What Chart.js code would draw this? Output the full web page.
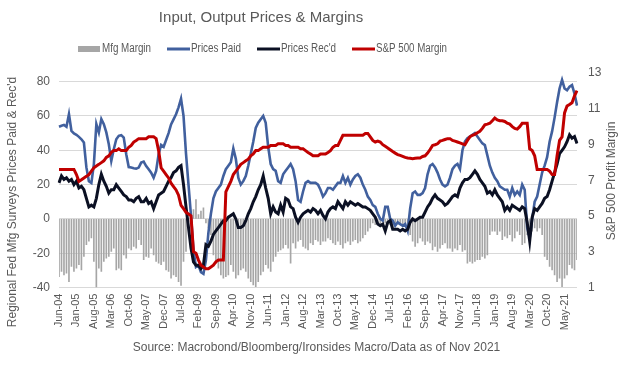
<!DOCTYPE html>
<html><head><meta charset="utf-8">
<script src="https://cdn.jsdelivr.net/npm/chart.js@4.4.1/dist/chart.umd.min.js"></script>
<style>html,body{margin:0;padding:0;background:#fff;}canvas{display:block;}</style>
</head><body>
<canvas id="c" width="633" height="365"></canvas>
<script>
// ---- data ----
const MONTHS = ['Jan','Feb','Mar','Apr','May','Jun','Jul','Aug','Sep','Oct','Nov','Dec'];
const categories = [];
for (let i = 0; i < 209; i++) {
  const m = (5 + i) % 12, y = 2004 + Math.floor((5 + i) / 12);
  categories.push(MONTHS[m] + '-' + String(y % 100).padStart(2, '0'));
}
const tickEvery = 7;

const mfgMargin = [
 -33.6,-30.6,-32.6,-31.6,-36.5,-27.7,-30.6,-28.7,-26.7,-29.7,
 -21.9,-15,-13,-11,-24.8,-39.8,-28.7,-30.6,-24.8,-22.8,
 -21.9,-18.9,-17,-29.7,-28.7,-29.7,-20.9,-22.8,-17,-18,
 -16,-17,-12.1,-15,-23.8,-21.9,-22.4,-17,-20.9,-24.8,
 -25.8,-26.7,-24.8,-29.7,-30.6,-34.5,-32.6,-33.6,-36.5,-38.8,
 -24.8,-18.9,-1.4,1.6,5.5,11.3,2.5,4.5,6.4,-2.3,
 -5.3,-9.2,-20.9,-25.8,-28.7,-32.6,-34.5,-33.6,-32.6,-26.7,
 -30.6,-34.5,-32.6,-29.7,-28.7,-30.6,-34.5,-36.5,-38.4,-39.4,
 -36.5,-32.6,-30.6,-26.7,-28.7,-30.6,-24.8,-21.9,-18.9,-18,
 -17,-15,-17,-25.8,-14,-17,-13,-12.1,-16,-17,
 -18,-14,-15,-12.1,-13,-15,-13,-13,-11,-12.1,
 -14,-15,-13,-15,-17,-14,-13,-15,-13,-12.1,
 -14,-13,-11,-9.2,-7.2,-5.3,-2.3,-3.3,-2.3,-3.3,
 -1.4,-2.3,-1.4,-3.3,-4.3,-2.3,-1.4,-3.3,-3.3,-4.3,
 -5.3,-9.2,-13,-16,-14,-11,-13,-15,-13,-14,
 -18,-16,-18.9,-17,-15,-14,-17,-17,-18.9,-17,
 -18,-15,-18.9,-18,-25.8,-24.8,-25.8,-24.8,-23.8,-23.8,
 -21.9,-22.8,-20.9,-9.2,-7.2,-7.2,-9.2,-7.2,-12.1,-10.1,
 -11.1,-9.2,-13,-11.1,-7.2,-9.2,-15,-14,-9.2,-7.2,
 -7.2,-5.3,-7.2,-5.3,-9.2,-21.9,-23.8,-27.7,-29.7,-32.6,
 -36.5,-34.5,-39.4,-34.5,-32.6,-26.7,-28.7,-29.7,-23.8
];

const pricesPaid = [
 53.7,54.3,54.8,53.7,61,51.3,49.8,49,47.8,46.4,
 44.5,30,22,21,31.8,55.2,50.4,58.2,55.2,50.4,
 43.5,33.8,40.6,46.4,48.4,48.8,47.4,37.7,30.2,29.9,
 29.5,29.3,29.9,32.8,33.4,30.8,28.9,26.9,24,27.9,
 37.7,43.1,42,46,50,55,58,61,65,70,
 60,38,20,2,-18,-28,-27,-31,-32,-24,
 -8,3,12,16,18,20,25,29,31,33,
 41,35,24,20,22,25,31,38,45,53,
 56,58,60,56,42,32,29,28,22,21,
 26,28,30,32,29,22,11,10,16,21,
 22,21,21,21,20,17,13,15,18,18,
 17,19,21,21,25,21,24,20,23,25,
 26,24,20,17,13,11,8,7,3,0,
 -1,7,7,0,-1,-4,-2,-3,-4,-3,
 -7,6,15,16,14,14,15,18,26,31,
 32,30,27,23,20,19,20,24,29,31,
 32,29,40,45,47,48,49,50,48,46,
 44,43,37,31,27,24,22,19,18,17,
 17,13,18,14,16,14,20,17,-5,-11,
 0,10,13,20,27,31,36,45,51,59,
 68,76,81,76,75,77,78,73,66
];

const pricesRecd = [
 21,25,23,24,22,23,20,22,18,19,
 17,12,7,8,7,12,20,26,22,19,
 15,17,17,20,18,16,14,13,11,11,
 10,12,13,10,10,12,9,10,6,10,
 14,15,16,19,22,24,27,28,30,31,
 20,7,-5,-17,-25,-27,-27,-29,-27,-15,
 -16,-13,-9,-7,-5,-3,-1,-1,1,2,
 3,0,-5,-5,-4,-1,3,6,10,13,
 17,20,25,18,12,3,7,4,3,8,
 4,12,11,7,6,1,-2,1,3,4,
 5,4,6,5,3,5,2,0,4,6,
 7,6,10,8,6,10,8,10,9,8,
 9,8,7,7,6,5,3,1,-3,-4,
 -3,-7,-2,-1,-6,-6,-6,-7,-6,-7,
 -6,-2,0,-1,0,1,1,4,7,9,
 12,14,12,11,10,8,9,11,13,14,
 13,18,21,23,23,24,26,28,26,23,
 21,19,15,16,14,17,14,12,10,5,
 7,5,8,7,6,5,7,6,-2,-13,
 1,6,5,7,9,12,13,17,22,27,
 32,38,40,42,45,49,47,48,44
];

const spMargin = [
 7.61,7.61,7.61,7.61,7.61,7.61,7.61,7.32,6.94,7.03,
 7.13,7.22,7.32,7.51,7.70,7.80,7.89,7.99,8.09,8.28,
 8.37,8.56,8.66,8.66,8.76,8.66,8.66,8.66,8.85,8.95,
 9.14,9.23,9.33,9.33,9.33,9.33,9.43,9.43,9.43,9.33,
 8.66,7.70,7.51,7.32,7.13,6.84,6.65,6.46,6.17,5.60,
 5.41,5.21,5.12,5.02,3.01,2.92,2.54,2.25,2.15,2.06,
 2.06,2.15,2.25,2.44,2.54,2.54,2.54,6.36,6.65,6.94,
 7.32,7.51,7.70,7.89,7.99,8.09,8.18,8.37,8.47,8.66,
 8.66,8.76,8.85,8.85,8.85,8.95,8.95,8.95,9.04,9.04,
 9.04,8.95,8.95,8.85,8.85,8.85,8.85,8.76,8.76,8.66,
 8.56,8.47,8.37,8.37,8.37,8.47,8.47,8.47,8.56,8.66,
 8.85,8.95,8.95,9.23,9.52,9.52,9.52,9.52,9.52,9.52,
 9.52,9.52,9.52,9.62,9.62,9.43,9.23,9.14,9.19,9.14,
 8.99,8.90,8.81,8.71,8.61,8.52,8.44,8.39,8.34,8.28,
 8.25,8.23,8.21,8.23,8.25,8.25,8.33,8.37,8.52,8.72,
 8.95,8.99,9.04,9.19,9.23,9.28,9.33,9.33,9.23,9.19,
 9.14,9.09,9.04,8.99,9.23,9.43,9.52,9.57,9.66,9.74,
 9.90,10.10,10.14,10.19,10.33,10.48,10.38,10.33,10.33,10.29,
 10.19,10.14,10.00,9.90,9.86,10.00,10.19,10.19,10.19,8.76,
 8.66,8.37,7.61,7.61,7.61,7.61,7.61,7.51,7.32,7.32,
 8.37,9.23,9.43,10.77,11.15,11.24,11.34,11.72,12.01
];

const leftTickValues = [-40, -20, 0, 20, 40, 60, 80];
const leftRange = { min: -40, max: 85 };
const rightRange = { min: 1, max: 13, step: 2 };

const COLORS = { bar: '#a6a6a6', paid: '#41609e', recd: '#0b1023', sp: '#c00000', text: '#595959', grid: '#d9d9d9' };
const FONT = "'Liberation Sans', Arial, sans-serif";
Chart.defaults.font.family = FONT;
Chart.defaults.color = COLORS.text;

const chartTitle = 'Input, Output Prices & Margins';
const legendItems = [
  { text: 'Mfg Margin', type: 'box', color: COLORS.bar, x: 78, w: 22, tx: 102, tw: 49 },
  { text: 'Prices Paid', type: 'line', color: COLORS.paid, x: 167, w: 23, tx: 191, tw: 50, lw: 3 },
  { text: "Prices Rec'd", type: 'line', color: COLORS.recd, x: 257, w: 23, tx: 281, tw: 55, lw: 3 },
  { text: 'S&P 500 Margin', type: 'line', color: COLORS.sp, x: 352, w: 23, tx: 376, tw: 71, lw: 3 }
];

const extras = {
  id: 'extras',
  afterDraw(chart) {
    const ctx = chart.ctx;
    ctx.save();
    // title
    ctx.font = '15px ' + FONT;
    ctx.fillStyle = COLORS.text;
    ctx.textAlign = 'center';
    ctx.textBaseline = 'middle';
    ctx.fillText(chartTitle, 261, 18);
    // legend
    const ly = 49;
    ctx.font = '12px ' + FONT;
    ctx.textAlign = 'left';
    legendItems.forEach(it => {
      if (it.type === 'box') {
        ctx.fillStyle = it.color;
        ctx.fillRect(it.x, ly - 3, it.w, 6);
      } else {
        ctx.strokeStyle = it.color; ctx.lineWidth = it.lw;
        ctx.beginPath(); ctx.moveTo(it.x, ly); ctx.lineTo(it.x + it.w, ly); ctx.stroke();
      }
      ctx.fillStyle = COLORS.text;
      ctx.fillText(it.text, it.tx, ly, it.tw);
    });
    // axis titles
    ctx.font = '12px ' + FONT;
    ctx.textAlign = 'center';
    ctx.fillStyle = COLORS.text;
    ctx.save();
    ctx.translate(13, 202); ctx.rotate(-Math.PI / 2);
    ctx.fillText("Regional Fed Mfg Surveys Prices Paid & Rec'd", 0, 0);
    ctx.restore();
    ctx.save();
    ctx.translate(612, 181); ctx.rotate(-Math.PI / 2);
    ctx.fillText('S&P 500 Profit Margin', 0, 0);
    ctx.restore();
    ctx.restore();
  }
};

new Chart(document.getElementById('c'), {
  type: 'bar',
  data: {
    labels: categories,
    datasets: [
      { type: 'line', label: 'S&P 500 Margin', data: spMargin, yAxisID: 'y1', borderColor: COLORS.sp, borderWidth: 3, pointRadius: 0, tension: 0, order: 1 },
      { type: 'line', label: "Prices Rec'd", data: pricesRecd, yAxisID: 'y', borderColor: COLORS.recd, borderWidth: 3, pointRadius: 0, tension: 0, order: 2 },
      { type: 'line', label: 'Prices Paid', data: pricesPaid, yAxisID: 'y', borderColor: COLORS.paid, borderWidth: 2.6, pointRadius: 0, tension: 0, order: 3 },
      { type: 'bar', label: 'Mfg Margin', data: mfgMargin, yAxisID: 'y', backgroundColor: COLORS.bar, barThickness: 1, order: 4 }
    ]
  },
  options: {
    responsive: false,
    animation: false,
    devicePixelRatio: 1,
    layout: { padding: { top: 73, left: 0, right: 0, bottom: 0 } },
    plugins: {
      legend: { display: false },
      tooltip: { enabled: false },
      title: { display: false },
      subtitle: { display: true, position: 'bottom', text: 'Source: Macrobond/Bloomberg/Ironsides Macro/Data as of Nov 2021', font: { size: 12 }, color: COLORS.text, padding: { top: 4, bottom: 10 } }
    },
    scales: {
      x: {
        offset: false,
        grid: { display: false, drawTicks: false },
        border: { display: false },
        ticks: {
          autoSkip: false, maxRotation: 90, minRotation: 90, padding: 6,
          font: { size: 11 }, color: COLORS.text,
          callback: function (v, i) { return i % tickEvery === 0 ? this.getLabelForValue(v) : null; }
        },
        afterFit: s => { s.height = 49; }
      },
      y: {
        position: 'left', min: leftRange.min, max: leftRange.max,
        grid: { color: COLORS.grid, lineWidth: 1, drawTicks: false },
        border: { display: false },
        ticks: { padding: 9, font: { size: 12 }, color: COLORS.text },
        afterBuildTicks: s => { s.ticks = leftTickValues.map(v => ({ value: v })); },
        afterFit: s => { s.width = 59; }
      },
      y1: {
        position: 'right', min: rightRange.min, max: rightRange.max,
        grid: { drawOnChartArea: false, drawTicks: false },
        border: { display: false },
        ticks: { stepSize: rightRange.step, padding: 11, font: { size: 12 }, color: COLORS.text },
        afterFit: s => { s.width = 56; }
      }
    }
  },
  plugins: [extras]
});
</script>
</body></html>
